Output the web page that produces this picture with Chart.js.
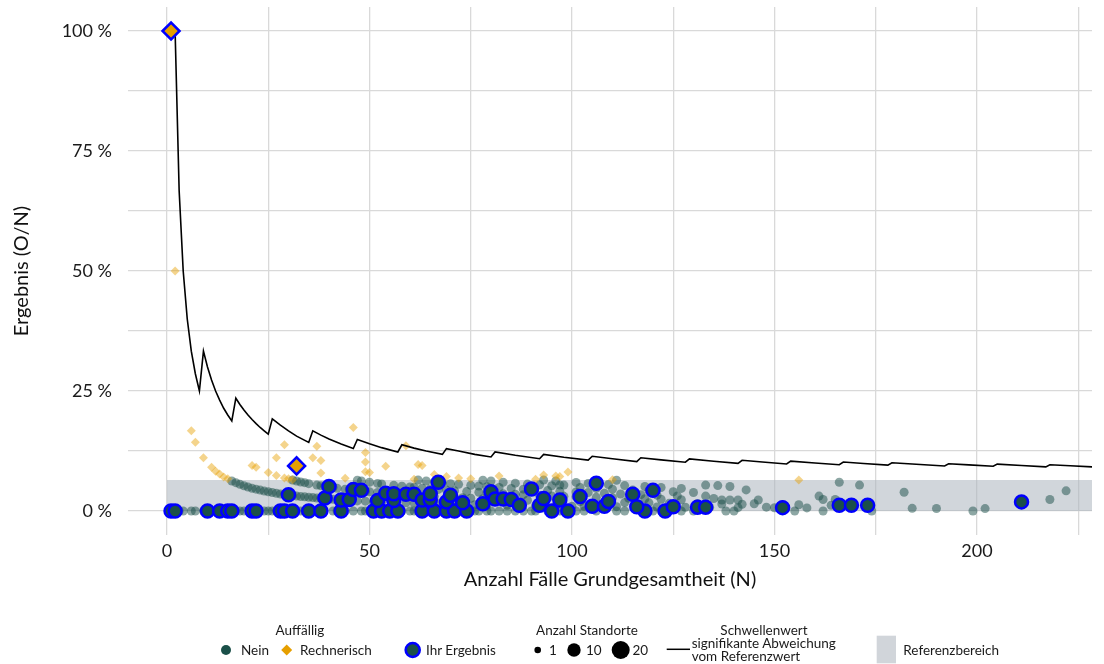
<!DOCTYPE html>
<html lang="de">
<head>
<meta charset="utf-8">
<title>Ergebnis (O/N)</title>
<script src="https://cdn.jsdelivr.net/npm/chart.js@4.4.1/dist/chart.umd.min.js"></script>
<style>
    html, body { margin: 0; padding: 0; background: #fff; }
    #wrap { position: relative; width: 1104px; height: 664px; }
    #chart { position: absolute; left: 0; top: 0; }
    #legende { position: absolute; left: 0; top: 0; pointer-events: none; }
    #legende text { font-family: Lato, sans-serif; font-size: 13.5px; fill: #1a1a1a; dominant-baseline: central; }
</style>
</head>
<body>
<div id="wrap">
    <canvas id="chart" width="1104" height="664"></canvas>
    <svg id="legende" width="1104" height="664">
        <text x="300" y="630" text-anchor="middle">Auffällig</text>
        <circle cx="226" cy="650" r="5" fill="#1b5049"/>
        <text x="241" y="650">Nein</text>
        <path d="M286.7 644.5 L292.2 650 L286.7 655.5 L281.2 650 Z" fill="#e69f00"/>
        <text x="300" y="650">Rechnerisch</text>
        <circle cx="412.7" cy="650" r="7" fill="#1b5049" stroke="#0000ff" stroke-width="2.6"/>
        <text x="426" y="650">Ihr Ergebnis</text>

        <text x="587" y="630" text-anchor="middle">Anzahl Standorte</text>
        <circle cx="537.7" cy="650" r="3.3" fill="#000"/>
        <text x="549" y="650">1</text>
        <circle cx="574" cy="650" r="6.7" fill="#000"/>
        <text x="586" y="650">10</text>
        <circle cx="620.7" cy="650" r="9" fill="#000"/>
        <text x="632.5" y="650">20</text>

        <text x="764" y="630" text-anchor="middle">Schwellenwert</text>
        <line x1="666.7" y1="649.3" x2="690" y2="649.3" stroke="#000" stroke-width="1.5"/>
        <text x="691.7" y="643.3">signifikante Abweichung</text>
        <text x="691.7" y="655.7">vom Referenzwert</text>

        <rect x="876.7" y="635.7" width="19.3" height="27.6" fill="#d1d5da"/>
        <text x="903.3" y="650">Referenzbereich</text>
    </svg>
</div>
<script>
// Achsen
const xTicks = [0, 50, 100, 150, 200];
const yTicks = [0, 25, 50, 75, 100];

// Referenzbereich (in %)
const referenzbereich = [0, 6.46];

// Schwellenwert signifikante Abweichung (N, %)
const schwelleN = [1, 2, 3, 4, 5, 6, 7, 8,
    9, 10, 11, 12, 13, 14, 15, 16,
    17, 18, 19, 20, 21, 22, 23, 24, 25,
    26, 28, 30, 32, 35,
    36, 38, 40, 43, 46,
    47, 50, 53, 57,
    58, 61, 64, 68,
    69, 72, 76, 80,
    81, 86, 92,
    93, 98, 104,
    105, 110, 116,
    117, 122, 128,
    129, 135, 141,
    142, 147, 153,
    154, 160, 166,
    167, 172, 178,
    179, 185, 192,
    193, 198, 204,
    205, 211, 217,
    218, 223, 229];
const schwelleWert = [100, 100, 66.7, 50, 40, 33.3, 28.6, 25,
    33.3, 30, 27.3, 25, 23.1, 21.4, 20, 18.75,
    23.5, 22.2, 21.05, 20, 19.05, 18.2, 17.4, 16.7, 16,
    19.2, 17.9, 16.7, 15.6, 14.3,
    16.7, 15.8, 15, 13.95, 13,
    14.9, 14, 13.2, 12.3,
    13.8, 13.1, 12.5, 11.8,
    13, 12.5, 11.8, 11.25,
    12.3, 11.6, 10.9,
    11.8, 11.2, 10.6,
    11.4, 10.9, 10.3,
    11.1, 10.66, 10.16,
    10.85, 10.37, 9.93,
    10.56, 10.2, 9.8,
    10.4, 10, 9.64,
    10.2, 9.88, 9.55,
    10.06, 9.73, 9.38,
    9.84, 9.6, 9.31,
    9.76, 9.48, 9.2,
    9.63, 9.42, 9.17];

// Auffällig: Nein (N, %)
const neinPunkte = [
    [3, 0], [4, 0], [6, 0], [7, 0], [9, 0], [12, 0], [17, 0], [18, 0], [19, 0], [24, 0], [25, 0], [26, 0], [27, 0],
    [33, 0], [34, 0], [36, 0], [37, 0], [41, 0], [42, 0], [44, 0], [46, 0], [48, 0], [49, 0], [50, 0], [54, 0],
    [58, 0], [60, 0], [61, 0], [62, 0], [65, 0], [68, 0], [70, 0], [72, 0], [75, 0], [76, 0], [77, 0], [79, 0],
    [80, 0], [82, 0], [84, 0], [86, 0], [88, 0], [90, 0], [91, 0], [94, 0], [97, 0], [98, 0], [101, 0], [103, 0],
    [106, 0], [111, 0], [113, 0], [120, 0], [122, 0], [127, 0], [130, 0], [138, 0], [140, 0], [155, 0], [162, 0],
    [174, 0], [199, 0],
    [16, 6.25], [17, 5.9], [18, 5.55], [19, 5.25], [20, 5.0], [21, 4.75], [22, 4.55], [23, 4.35], [24, 4.15],
    [25, 4.0], [26, 3.85], [27, 3.7], [28, 3.55], [29, 3.45], [31, 3.25], [32, 3.1], [33, 3.0], [34, 2.95],
    [35, 2.85], [36, 2.8], [37, 2.7], [38, 2.65], [40, 2.5], [41, 2.45], [44, 2.25], [47, 2.1], [49, 2.05],
    [51, 1.95], [53, 1.9], [56, 1.8], [59, 1.7], [61, 1.65], [64, 1.55], [67, 1.5], [70, 1.45], [72, 1.4],
    [76, 1.3], [79, 1.25], [84, 1.2], [87, 1.15], [91, 1.1], [96, 1.05], [100, 1.0], [103, 0.97], [107, 0.93],
    [111, 0.9], [116, 0.86], [121, 0.83], [128, 0.78], [134, 0.75], [141, 0.7], [148, 0.8], [150, 0.67],
    [158, 0.64], [184, 0.55], [190, 0.53], [202, 0.5],
    [31, 6.45], [32, 6.25], [33, 6.05], [34, 5.9], [35, 5.7], [37, 5.4], [38, 5.25], [39, 5.15], [41, 4.9],
    [42, 4.75], [44, 4.55], [45, 4.45], [47, 4.25], [49, 4.1], [50, 4.0], [52, 3.85], [54, 3.7], [55, 3.65],
    [57, 3.5], [59, 3.4], [60, 3.35], [62, 3.2], [65, 3.1], [66, 3.0], [69, 2.9], [71, 2.8], [73, 2.75],
    [75, 2.65], [78, 2.55], [82, 2.45], [85, 2.35], [89, 2.25], [93, 2.15], [97, 2.05], [102, 1.95], [108, 1.85],
    [113, 1.75], [119, 1.7], [124, 1.6], [131, 1.55], [137, 1.45], [142, 1.4], [145, 1.5], [152, 1.3],
    [156, 1.3], [164, 1.2],
    [47, 6.4], [48, 6.25], [50, 6.0], [52, 5.75], [53, 5.65], [56, 5.35], [58, 5.15], [60, 5.0], [61, 4.9],
    [63, 4.75], [65, 4.6], [67, 4.5], [69, 4.35], [71, 4.2], [74, 4.05], [77, 3.9], [79, 3.8], [83, 3.6],
    [86, 3.5], [88, 3.4], [92, 3.25], [95, 3.15], [98, 3.05], [101, 2.95], [106, 2.85], [110, 2.75], [114, 2.65],
    [118, 2.55], [122, 2.45], [127, 2.35], [135, 2.6], [137, 2.3], [139, 2.3], [141, 2.3], [146, 2.3],
    [162, 2.4], [165, 2.4],
    [62, 6.45], [64, 6.25], [66, 6.05], [68, 5.9], [70, 5.7], [72, 5.55], [75, 5.35], [77, 5.2], [79, 5.05],
    [82, 4.9], [85, 4.7], [88, 4.55], [90, 4.45], [94, 4.25], [97, 4.1], [101, 3.95], [104, 3.85], [108, 3.7],
    [112, 3.55], [117, 3.4], [121, 3.3], [126, 3.15], [133, 3.1], [161, 3.1], [182, 3.9],
    [78, 6.4], [80, 6.25], [83, 6.0], [86, 5.8], [89, 5.6], [92, 5.45], [95, 5.25], [97, 5.4], [98, 5.4],
    [102, 4.9], [106, 4.7], [110, 4.55], [115, 4.35], [119, 4.2], [125, 4.0], [130, 3.85],
    [93, 6.45], [96, 6.25], [101, 5.95], [104, 5.75], [109, 5.5], [111, 6.4], [113, 5.3], [118, 5.1],
    [122, 4.9], [127, 4.7], [133, 5.4], [136, 5.3], [139, 5.1], [143, 4.4], [166, 6.0], [171, 5.4],
    [218, 2.4], [222, 4.2]
];

// Auffällig: Rechnerisch (N, %)
const rechnerischPunkte = [
    [2, 50], [6, 16.7], [7, 14.3], [9, 11.1], [11, 9.1], [12, 8.3], [13, 7.7], [14, 7.1], [15, 6.7],
    [21, 9.5], [22, 9.1], [25, 8.0], [27, 11.1], [27, 7.4], [29, 13.8], [29, 6.9], [30, 6.7], [31, 6.5],
    [36, 11.1], [37, 13.5], [38, 10.5], [38, 7.9], [44, 6.8], [46, 17.4], [49, 12.2], [49, 10.2], [49, 8.2],
    [50, 8.0], [54, 9.3], [59, 13.6], [61, 6.6], [62, 9.7], [63, 9.5], [66, 7.6], [69, 7.2], [72, 6.9],
    [75, 6.7], [82, 7.3], [91, 6.6], [93, 7.5], [96, 7.3], [97, 7.2], [99, 8.1], [110, 6.5], [156, 6.45]
];

// Ihr Ergebnis (N, %)
const ihrePunkte = [
    [1, 0], [2, 0], [10, 0], [13, 0], [15, 0], [16, 0], [21, 0], [22, 0], [28, 0], [29, 0], [31, 0], [35, 0],
    [38, 0], [43, 0], [51, 0], [53, 0], [55, 0], [57, 0], [63, 0], [66, 0], [69, 0], [71, 0], [74, 0], [95, 0],
    [99, 0], [118, 0], [123, 0],
    [30, 3.4], [39, 2.7], [40, 5.1], [43, 2.3], [45, 2.4], [46, 4.5], [48, 4.3], [52, 2.2], [54, 3.7],
    [56, 2.2], [56, 3.6], [59, 3.5], [61, 3.5], [63, 2.3], [65, 2.3], [65, 3.6], [67, 6.0], [69, 1.9],
    [70, 3.3], [73, 1.7], [78, 1.5], [80, 4.0], [81, 2.5], [83, 2.5], [85, 2.4], [87, 1.2], [90, 4.6],
    [92, 1.2], [93, 2.6], [97, 2.3], [102, 3.0], [105, 1.0], [106, 5.8], [108, 1.0], [109, 2.0], [115, 3.5],
    [116, 0.9], [120, 4.3], [125, 0.9], [131, 0.8], [133, 0.8], [152, 0.7], [166, 1.2], [169, 1.2],
    [173, 1.2], [211, 1.9]
];

// Ihr Ergebnis, rechnerisch auffällig (N, %)
const ihreAuffaelligPunkte = [[1, 100], [32, 9.4]];

const punkte = arr => arr.map(p => ({ x: p[0], y: p[1] }));

// Referenzbereich als graues Band hinter den Punkten
const referenzPlugin = {
    id: 'referenzbereich',
    beforeDatasetsDraw(chart) {
        const { ctx, chartArea, scales: { x, y } } = chart;
        const x0 = x.getPixelForValue(0);
        const yTop = y.getPixelForValue(referenzbereich[1]);
        const yBot = y.getPixelForValue(referenzbereich[0]);
        ctx.save();
        ctx.fillStyle = 'rgba(172,181,190,0.55)';
        ctx.fillRect(x0, yTop, chartArea.right - x0, yBot - yTop);
        ctx.restore();
    }
};

Chart.defaults.font.family = 'Lato';

new Chart(document.getElementById('chart'), {
    type: 'scatter',
    data: {
        datasets: [
            {
                label: 'Ihr Ergebnis (rechnerisch)',
                data: punkte(ihreAuffaelligPunkte),
                pointStyle: 'rectRot',
                pointRadius: 8.5,
                backgroundColor: '#e69f00',
                borderColor: '#0000ff',
                borderWidth: 2.5,
                clip: false,
                order: 1
            },
            {
                label: 'Ihr Ergebnis',
                data: punkte(ihrePunkte),
                pointRadius: 6.5,
                backgroundColor: '#1b5049',
                borderColor: '#0000ff',
                borderWidth: 2.5,
                order: 2
            },
            {
                type: 'line',
                label: 'Schwellenwert',
                data: schwelleN.map((n, i) => ({ x: n, y: schwelleWert[i] })),
                borderColor: '#000',
                borderWidth: 1.6,
                pointRadius: 0,
                tension: 0,
                fill: false,
                order: 3
            },
            {
                label: 'Rechnerisch',
                data: punkte(rechnerischPunkte),
                pointStyle: 'rectRot',
                pointRadius: 4.5,
                backgroundColor: 'rgba(230,159,0,0.45)',
                borderWidth: 0,
                order: 4
            },
            {
                label: 'Nein',
                data: punkte(neinPunkte),
                pointRadius: 4.5,
                backgroundColor: 'rgba(27,80,73,0.5)',
                borderWidth: 0,
                order: 5
            }
        ]
    },
    options: {
        responsive: false,
        animation: false,
        devicePixelRatio: 1,
        layout: { autoPadding: false, padding: { left: 0, right: 12, top: 7, bottom: 0 } },
        plugins: {
            legend: { display: false },
            tooltip: { enabled: false }
        },
        scales: {
            x: {
                type: 'linear',
                min: -9.63,
                max: 228.4,
                afterFit: s => { s.height = 129; s.paddingLeft = 0; s.paddingRight = 0; },
                border: { display: false },
                grid: { color: '#d9d9d9', lineWidth: 1.3, drawTicks: false },
                ticks: {
                    stepSize: 25,
                    includeBounds: false,
                    autoSkip: false,
                    maxRotation: 0,
                    padding: 5,
                    color: '#1a1a1a',
                    font: { size: 18 },
                    callback: v => xTicks.includes(v) ? String(v) : ''
                },
                title: {
                    display: true,
                    text: 'Anzahl Fälle Grundgesamtheit (N)',
                    color: '#111',
                    font: { size: 20 },
                    padding: { top: 0, bottom: 72 }
                }
            },
            y: {
                type: 'linear',
                min: -5,
                max: 105,
                afterFit: s => { s.width = 128; s.paddingTop = 0; s.paddingBottom = 0; },
                border: { display: false },
                grid: { color: '#d9d9d9', lineWidth: 1.3, drawTicks: false },
                ticks: {
                    stepSize: 12.5,
                    includeBounds: false,
                    autoSkip: false,
                    padding: 16,
                    color: '#1a1a1a',
                    font: { size: 18 },
                    callback: v => yTicks.includes(v) ? v + ' %' : ''
                },
                title: {
                    display: true,
                    text: 'Ergebnis (O/N)',
                    color: '#111',
                    font: { size: 20 },
                    padding: { top: 10, bottom: 0 }
                }
            }
        }
    },
    plugins: [referenzPlugin]
});
</script>
</body>
</html>
